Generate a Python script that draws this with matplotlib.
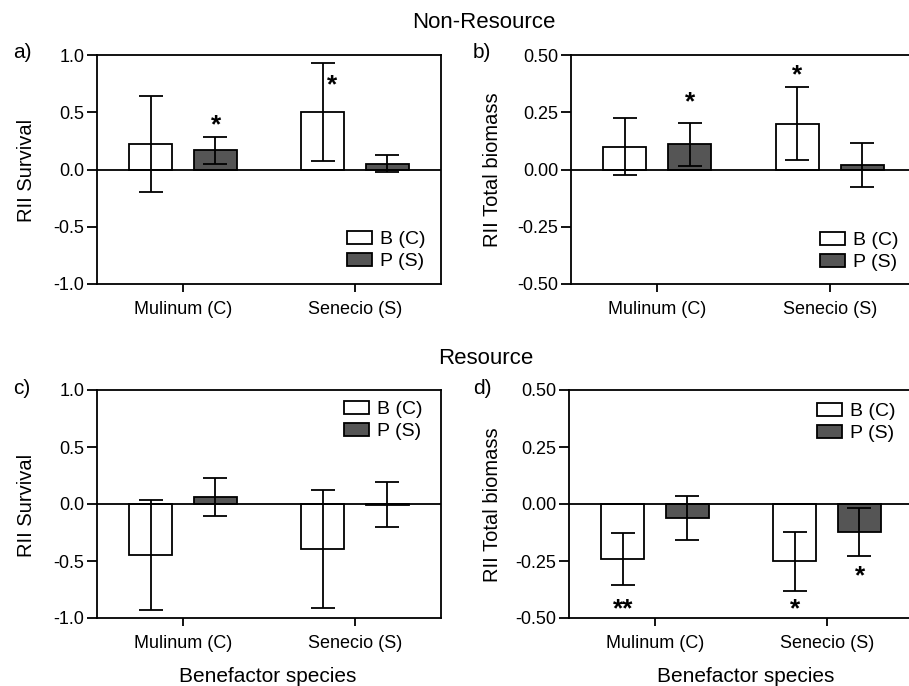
import matplotlib
matplotlib.use('Agg')
import matplotlib.pyplot as plt
import numpy as np
from matplotlib.patches import Patch

plt.rcParams['font.family'] = ['Liberation Sans', 'DejaVu Sans']
plt.rcParams['axes.unicode_minus'] = False

categories = ['Mulinum (C)', 'Senecio (S)']
series = ['B (C)', 'P (S)']

# panel a: Non-Resource, RII Survival
a_B = [0.22, 0.50]
a_B_err = [0.42, 0.43]
a_P = [0.168, 0.05]
a_P_err = [0.117, 0.075]
a_star_x = [0.19, 0.867]
a_star_y = [0.42, 0.77]
a_star_txt = ['*', '*']

# panel b: Non-Resource, RII Total biomass
b_B = [0.10, 0.20]
b_B_err = [0.126, 0.159]
b_P = [0.11, 0.019]
b_P_err = [0.094, 0.095]
b_star_x = [0.19, 0.8125]
b_star_y = [0.31, 0.43]
b_star_txt = ['*', '*']

# panel c: Resource, RII Survival
c_B = [-0.447, -0.395]
c_B_err = [0.485, 0.518]
c_P = [0.06, -0.005]
c_P_err = [0.167, 0.20]
c_star_x = []
c_star_y = []
c_star_txt = []

# panel d: Resource, RII Total biomass
d_B = [-0.242, -0.252]
d_B_err = [0.113, 0.128]
d_P = [-0.061, -0.122]
d_P_err = [0.097, 0.104]
d_star_x = [-0.1875, 0.8125, 1.19]
d_star_y = [-0.442, -0.442, -0.30]
d_star_txt = ['**', '*', '*']

surv_ticks = [-1.0, -0.5, 0.0, 0.5, 1.0]
surv_labels = ['-1.0', '-0.5', '0.0', '0.5', '1.0']
bio_ticks = [-0.5, -0.25, 0.0, 0.25, 0.5]
bio_labels = ['-0.50', '-0.25', '0.00', '0.25', '0.50']

W, H = 909, 686
fig = plt.figure(figsize=(W / 100, H / 100), dpi=100)

def px_axes(left, right, top, bottom):
    return fig.add_axes([left / W, 1 - bottom / H, (right - left) / W, (bottom - top) / H])

LW = 1.3
DARK = '#555555'
WIDTH = 0.25
OFF = 0.1875

def draw(ax, B, Berr, P, Perr, ticks, labels, sx, sy, st, legloc, legbbox):
    x = np.arange(len(categories))
    ax.bar(x - OFF, B, WIDTH, color='white', edgecolor='black', linewidth=LW, zorder=2)
    ax.bar(x + OFF, P, WIDTH, color=DARK, edgecolor='black', linewidth=LW, zorder=2)
    ax.errorbar(x - OFF, B, yerr=Berr, fmt='none', ecolor='black', elinewidth=LW,
                capsize=8.3, capthick=LW, zorder=3)
    ax.errorbar(x + OFF, P, yerr=Perr, fmt='none', ecolor='black', elinewidth=LW,
                capsize=8.3, capthick=LW, zorder=3)
    ax.axhline(0, color='black', linewidth=LW, zorder=4)
    ax.set_xlim(-0.5, 1.5)
    ax.set_ylim(ticks[0], ticks[-1])
    ax.set_yticks(ticks)
    ax.set_yticklabels(labels)
    ax.set_xticks(x)
    ax.set_xticklabels(categories)
    ax.tick_params(axis='y', direction='out', length=7, width=LW, labelsize=13, pad=2)
    ax.tick_params(axis='x', direction='out', length=6, width=LW, labelsize=13, pad=6)
    for s in ax.spines.values():
        s.set_linewidth(LW)
    for xx, yy, tt in zip(sx, sy, st):
        ax.annotate(tt, xy=(xx, yy), xytext=(0, -8), textcoords='offset points',
                    ha='center', va='baseline', fontsize=19, fontweight='bold', zorder=5)
    handles = [Patch(facecolor='white', edgecolor='black', linewidth=LW),
               Patch(facecolor=DARK, edgecolor='black', linewidth=LW)]
    ax.legend(handles, series, loc=legloc, bbox_to_anchor=legbbox, frameon=False,
              fontsize=14, handlelength=1.29, handleheight=0.62, handletextpad=0.4,
              labelspacing=0.25, borderpad=0, borderaxespad=0)

ax_a = px_axes(97, 441, 55, 284)
ax_b = px_axes(571, 916, 55, 284)
ax_c = px_axes(97, 441, 390, 618)
ax_d = px_axes(569, 913, 390, 618)

draw(ax_a, a_B, a_B_err, a_P, a_P_err, surv_ticks, surv_labels,
     a_star_x, a_star_y, a_star_txt, 'lower right', (0.955, 0.06))
draw(ax_b, b_B, b_B_err, b_P, b_P_err, bio_ticks, bio_labels,
     b_star_x, b_star_y, b_star_txt, 'lower right', (0.95, 0.055))
draw(ax_c, c_B, c_B_err, c_P, c_P_err, surv_ticks, surv_labels,
     c_star_x, c_star_y, c_star_txt, 'upper right', (0.945, 0.952))
draw(ax_d, d_B, d_B_err, d_P, d_P_err, bio_ticks, bio_labels,
     d_star_x, d_star_y, d_star_txt, 'upper right', (0.948, 0.943))

def ftext(x, y, s, **kw):
    fig.text(x / W, 1 - y / H, s, ha='center', va='center', **kw)

ftext(484, 22, 'Non-Resource', fontsize=16)
ftext(486, 358, 'Resource', fontsize=16)
ftext(22, 53, 'a)', fontsize=15)
ftext(482, 52, 'b)', fontsize=15)
ftext(22, 388, 'c)', fontsize=15)
ftext(482, 388, 'd)', fontsize=15)
ftext(27, 170, 'RII Survival', fontsize=14.5, rotation=90)
ftext(493, 170, 'RII Total biomass', fontsize=14.5, rotation=90)
ftext(27, 505, 'RII Survival', fontsize=14.5, rotation=90)
ftext(492, 505, 'RII Total biomass', fontsize=14.5, rotation=90)
ftext(268, 676, 'Benefactor species', fontsize=15)
ftext(746, 676, 'Benefactor species', fontsize=15)

fig.savefig('out.png', dpi=100)
